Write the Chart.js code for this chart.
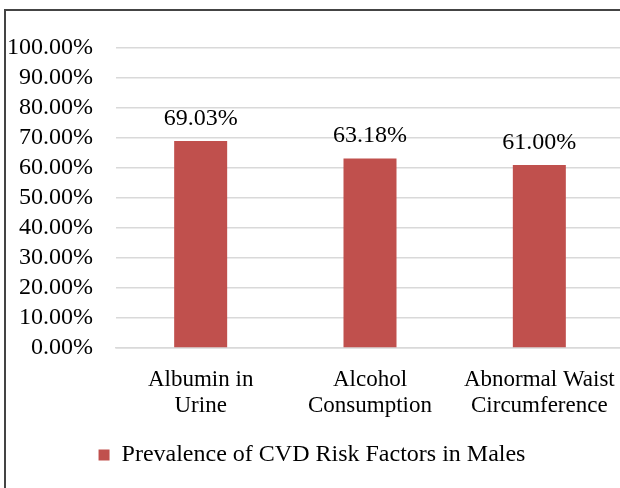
<!DOCTYPE html>
<html>
<head>
<meta charset="utf-8">
<script src="https://cdn.jsdelivr.net/npm/chart.js@4/dist/chart.umd.min.js"></script>
<style>
  html, body { margin: 0; padding: 0; background: #fff; overflow: hidden; }
  #wrap { position: relative; width: 620px; height: 488px; overflow: hidden; }
  #frame { position: absolute; left: 4px; top: 9px; width: 800px; height: 600px; border: 2px solid #444; box-sizing: border-box; }
  #stage { position: absolute; left: 0; top: 0; }
</style>
</head>
<body>
<div id="wrap">
  <div id="frame"></div>
  <canvas id="stage" width="640" height="488"></canvas>
</div>
<script>
var categories = [['Albumin in', 'Urine'], ['Alcohol', 'Consumption'], ['Abnormal Waist', 'Circumference']];
var values = [69.03, 63.18, 61.00];
var seriesName = 'Prevalence of CVD Risk Factors in Males';
var yTicks = [0, 10, 20, 30, 40, 50, 60, 70, 80, 90, 100];

var serif = "'Liberation Serif', 'Times New Roman', serif";
var gridGray = '#d9d9d9';

// labels above bars
var barLabels = {
  id: 'barLabels',
  afterDatasetsDraw: function(chart) {
    var ctx = chart.ctx;
    var meta = chart.getDatasetMeta(0);
    ctx.save();
    ctx.font = '24px ' + serif;
    ctx.fillStyle = '#000';
    ctx.textAlign = 'center';
    ctx.textBaseline = 'alphabetic';
    meta.data.forEach(function(bar, i) {
      ctx.fillText(values[i].toFixed(2) + '%', bar.x, bar.y - 16);
    });
    ctx.restore();
  }
};

var myChart = new Chart(document.getElementById('stage').getContext('2d'), {
  type: 'bar',
  data: {
    labels: categories,
    datasets: [{
      label: seriesName,
      data: values,
      backgroundColor: '#C0504D',
      borderWidth: 0,
      barPercentage: 0.313,
      categoryPercentage: 1
    }]
  },
  options: {
    responsive: false,
    animation: false,
    layout: { padding: { top: 48, right: 16, left: 0, bottom: 11 } },
    plugins: {
      tooltip: { enabled: false },
      legend: {
        position: 'bottom',
        labels: {
          color: '#000',
          font: { family: serif, size: 24 },
          boxWidth: 11,
          boxHeight: 11,
          padding: 8
        }
      }
    },
    scales: {
      x: {
        grid: { display: false },
        border: { display: true, color: gridGray, width: 1.5 },
        ticks: {
          color: '#000',
          font: { family: serif, size: 23, lineHeight: 1.13 },
          maxRotation: 0,
          autoSkip: false,
          padding: 11
        },
        afterFit: function(scale) { scale.height = 87; }
      },
      y: {
        min: 0,
        max: 100,
        afterBuildTicks: function(scale) {
          scale.ticks = yTicks.map(function(v) { return { value: v }; });
        },
        grid: { color: gridGray, lineWidth: 1.5, drawTicks: false },
        border: { display: false },
        ticks: {
          color: '#000',
          font: { family: serif, size: 24 },
          padding: 23,
          autoSkip: false,
          callback: function(v) { return v.toFixed(2) + '%'; }
        },
        afterFit: function(scale) { scale.width = 116; }
      }
    }
  },
  plugins: [barLabels]
});
</script>
</body>
</html>
